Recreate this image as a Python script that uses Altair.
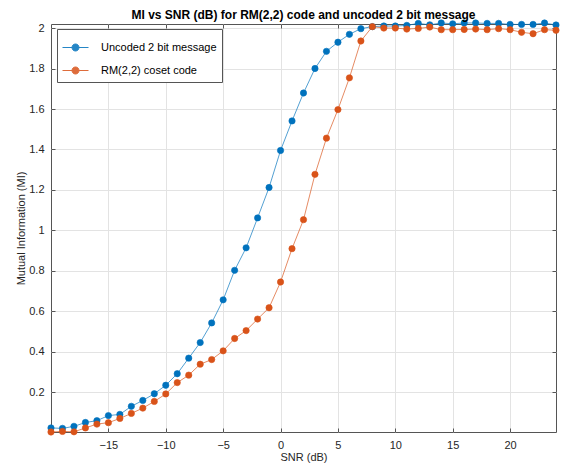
import altair as alt
import pandas as pd

snr = list(range(-20, 25))
uncoded = [0.024, 0.022, 0.032, 0.051, 0.060,
           0.085, 0.091, 0.131, 0.160, 0.193,
           0.235, 0.292, 0.369, 0.446, 0.543,
           0.657, 0.803, 0.914, 1.062, 1.212,
           1.395, 1.541, 1.679, 1.800, 1.885,
           1.930, 1.969, 1.997, 2.007, 2.010,
           2.010, 2.013, 2.023, 2.016, 2.025,
           2.021, 2.025, 2.025, 2.023, 2.023,
           2.018, 2.018, 2.018, 2.025, 2.015]
coset = [0.004, 0.007, 0.005, 0.024, 0.043,
         0.050, 0.071, 0.096, 0.122, 0.155,
         0.192, 0.248, 0.285, 0.339, 0.362,
         0.405, 0.466, 0.505, 0.562, 0.618,
         0.745, 0.910, 1.053, 1.277, 1.456,
         1.597, 1.754, 1.936, 2.007, 2.000,
         2.000, 1.995, 1.998, 2.005, 1.992,
         1.992, 1.993, 1.995, 1.992, 1.997,
         1.992, 1.979, 1.972, 1.992, 1.989]
series_names = ["Uncoded 2 bit message", "RM(2,2) coset code"]
series_colors = ["#0072BD", "#D95319"]
x_ticks = [-15, -10, -5, 0, 5, 10, 15, 20]
y_ticks = [0.2, 0.4, 0.6, 0.8, 1.0, 1.2, 1.4, 1.6, 1.8, 2.0]

rows = []
for name, vals in zip(series_names, [uncoded, coset]):
    for s, v in zip(snr, vals):
        rows.append({"snr": s, "mi": v, "series": name})
df = pd.DataFrame(rows)

FONT = "Liberation Sans"
TICK = 4
scale = alt.Scale(domain=series_names, range=series_colors)
sym = "M-1,0L1,0M0.27,0A0.27,0.27,0,1,1,-0.27,0A0.27,0.27,0,1,1,0.27,0Z"
legend = alt.Legend(
    title=None, orient="none", legendX=6, legendY=5,
    symbolType=sym, symbolSize=676, symbolStrokeWidth=1,
    labelFont=FONT, labelFontSize=11, labelColor="#000000",
    labelOffset=12, rowPadding=3, padding=5,
    strokeColor="#555555", fillColor="#ffffff", labelLimit=300,
)

xscale = alt.Scale(domain=[-20, 24], nice=False, zero=False)
yscale = alt.Scale(domain=[0.004, 2.02], nice=False, zero=False)

x = alt.X("snr:Q", title="SNR (dB)", scale=xscale,
          axis=alt.Axis(values=x_ticks, format="d", offset=-TICK,
                        tickSize=TICK, labelPadding=3 + TICK, titlePadding=1))
y = alt.Y("mi:Q", title="Mutual Information (MI)", scale=yscale,
          axis=alt.Axis(values=y_ticks, format="~g", offset=-TICK,
                        tickSize=TICK, labelPadding=3 + TICK, titlePadding=2))
x_top = alt.X("snr:Q", title=None, scale=xscale,
              axis=alt.Axis(values=x_ticks, orient="top", labels=False, grid=False,
                            offset=-TICK, tickSize=TICK))
y_right = alt.Y("mi:Q", title=None, scale=yscale,
                axis=alt.Axis(values=y_ticks, orient="right", labels=False, grid=False,
                              offset=-TICK, tickSize=TICK))

base = alt.Chart(df)
lines = base.mark_line(strokeWidth=0.8, opacity=0.85).encode(
    x=x, y=y,
    stroke=alt.Stroke("series:N", scale=scale, legend=legend, sort=series_names),
)
points = base.mark_point(filled=True, size=40, strokeWidth=0.6, opacity=1).encode(
    x=x_top, y=y_right,
    fill=alt.Fill("series:N", scale=scale, legend=legend, sort=series_names),
    stroke=alt.Stroke("series:N", scale=scale, legend=legend, sort=series_names),
)

chart = alt.layer(lines, points).resolve_axis(x="independent", y="independent").properties(
    width=505, height=408,
    title=alt.Title("MI vs SNR (dB) for RM(2,2) code and uncoded 2 bit message",
                    font=FONT, fontSize=12, fontWeight="bold", color="#000000",
                    offset=-3),
    autosize=alt.AutoSizeParams(type="none"),
    padding={"left": 43, "top": 16, "right": 14, "bottom": 40},
).configure_view(
    stroke="#555555", strokeWidth=1
).configure_axis(
    grid=True, gridColor="#e3e3e3", gridWidth=1,
    domain=False, tickColor="#555555",
    labelFont=FONT, labelFontSize=11, labelColor="#262626",
    titleFont=FONT, titleFontSize=11, titleFontWeight="normal", titleColor="#262626",
)

chart.save("out.html", embed_options={"renderer": "svg", "actions": False})
